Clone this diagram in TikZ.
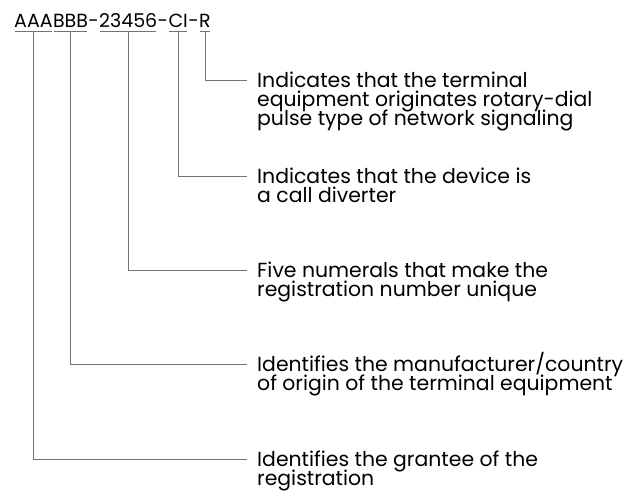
\documentclass[tikz,border=0pt]{standalone}
\usepackage{fontspec}
\setmainfont{Poppins}
% lines of a description, baseline of the node = baseline of the first line
\newcommand{\desclines}[1]{\vtop{\let\\\cr\baselineskip=19pt\lineskiplimit=-20pt\halign{##\hfil\cr#1\crcr}}}
\begin{document}
\begin{tikzpicture}[x=1pt, y=-1pt,
  code/.style={inner sep=0pt, anchor=base west, font=\fontsize{19}{22}\selectfont},
  desc/.style={inner sep=0pt, anchor=base west, font=\fontsize{20.4}{19}\selectfont},
  lead/.style={draw=black!55, line width=0.9pt}]

     \useasboundingbox (0,0) rectangle (624,491);

     % Registration number, one node per field
     \node[code] (aaa) at (14,27) {AAA};
     \node[code] (bbb) at (aaa.base east) {BBB};
     \node[code] (h1) at (bbb.base east) {-};
     \node[code] (num) at (h1.base east) {23456};
     \node[code] (h2) at (num.base east) {-};
     \node[code] (ci) at (h2.base east) {CI};
     \node[code] (h3) at (ci.base east) {-};
     \node[code] (r) at (h3.base east) {R};

     % Descriptions (anchored on the baseline of their first line)
     \node[desc] (dr) at (257,87) {\desclines{Indicates that the terminal\\equipment originates rotary-dial\\pulse type of network signaling}};
     \node[desc] (dci) at (257,183) {\desclines{Indicates that the device is\\a call diverter}};
     \node[desc] (dnum) at (257,277) {\desclines{Five numerals that make the\\registration number unique}};
     \node[desc] (dbbb) at (257,371) {\desclines{Identifies the manufacturer/country\\of origin of the terminal equipment}};
     \node[desc] (daaa) at (257,466) {\desclines{Identifies the grantee of the\\registration}};

     % Underlines
     \foreach \f in {aaa, bbb, num, ci, r}
       \draw[lead, shorten <=1pt, shorten >=1pt] ([yshift=-4pt]\f.south west) -- ([yshift=-4pt]\f.south east);

     % Leaders
     \draw[lead, shorten >=10pt] ([yshift=-4pt]r.south) |- ([yshift=7pt]dr.base west);
     \draw[lead, shorten >=10pt] ([yshift=-4pt]ci.south) |- ([yshift=7pt]dci.base west);
     \draw[lead, shorten >=10pt] ([yshift=-4pt]num.south) |- ([yshift=7pt]dnum.base west);
     \draw[lead, shorten >=10pt] ([yshift=-4pt]bbb.south) |- ([yshift=7pt]dbbb.base west);
     \draw[lead, shorten >=10pt] ([yshift=-4pt]aaa.south) |- ([yshift=7pt]daaa.base west);

\end{tikzpicture}
\end{document}
